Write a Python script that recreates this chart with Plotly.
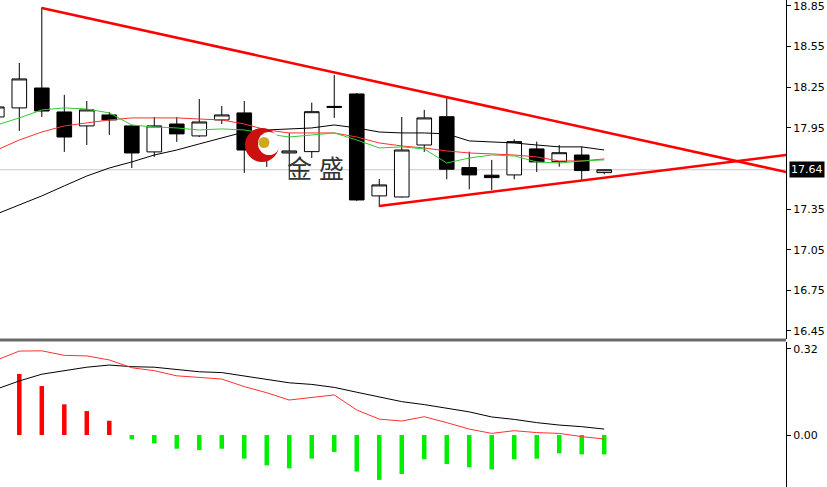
import plotly.graph_objects as go

# ---------------- data ----------------
idx = list(range(-1, 27))  # candle / bar index (time order)

opens = [18.030, 18.097, 18.244, 18.067, 17.964, 18.045, 17.964, 17.772, 17.978, 17.890,
         18.008, 18.060, 17.786, 17.764, 17.774, 18.100, 18.200, 17.447, 17.439, 17.823,
         18.032, 17.656, 17.600, 17.602, 17.794, 17.700, 17.749, 17.619]
highs = [18.156, 18.429, 18.840, 18.193, 18.148, 18.067, 17.971, 18.030, 18.030, 18.163,
         18.111, 18.148, 17.860, 17.912, 18.136, 18.340, 18.207, 17.572, 18.030, 18.082,
         18.180, 17.774, 17.713, 17.865, 17.848, 17.823, 17.811, 17.642]
lows = [17.971, 17.927, 18.030, 17.772, 17.823, 17.897, 17.653, 17.735, 17.846, 17.882,
        17.978, 17.617, 17.661, 17.580, 17.727, 18.023, 17.410, 17.365, 17.435, 17.772,
        17.570, 17.496, 17.491, 17.570, 17.624, 17.663, 17.565, 17.607]
closes = [18.104, 18.311, 18.074, 17.882, 18.082, 18.008, 17.764, 17.964, 17.905, 17.993,
          18.045, 17.786, 17.772, 17.779, 18.069, 18.108, 17.417, 17.528, 17.786, 18.023,
          17.644, 17.602, 17.582, 17.848, 17.698, 17.766, 17.634, 17.640]

ma_black = [17.314, 17.380, 17.447, 17.521, 17.594, 17.653, 17.698, 17.749, 17.786, 17.831,
            17.875, 17.919, 17.934, 17.942, 17.949, 17.971, 17.949, 17.919, 17.912, 17.912,
            17.905, 17.853, 17.846, 17.838, 17.823, 17.809, 17.809, 17.786]
ma_red = [17.786, 17.860, 17.919, 17.964, 17.986, 18.008, 18.023, 18.023, 18.023, 18.015,
          18.008, 17.978, 17.934, 17.912, 17.912, 17.912, 17.882, 17.838, 17.816, 17.801,
          17.779, 17.764, 17.757, 17.749, 17.735, 17.705, 17.705, 17.720]
ma_green = [17.971, 18.023, 18.082, 18.097, 18.089, 18.060, 17.971, 17.956, 17.949, 17.934,
            17.942, 17.934, 17.905, 17.882, 17.897, 17.912, 17.860, 17.801, 17.809, 17.794,
            17.690, 17.727, 17.749, 17.742, 17.698, 17.690, 17.705, 17.713]

# triangle trend lines (index, price)
trend_upper_x = [1, 35]
trend_upper_y = [18.835, 17.590]
trend_lower_x = [16, 35]
trend_lower_y = [17.373, 17.768]

current_price = 17.64

# MACD panel
hist_idx = list(range(0, 27))
macd_hist = [0.227, 0.182, 0.114, 0.089, 0.053, -0.016, -0.031, -0.051, -0.056, -0.051,
             -0.088, -0.113, -0.124, -0.088, -0.063, -0.136, -0.167, -0.145, -0.090, -0.108,
             -0.120, -0.128, -0.090, -0.088, -0.068, -0.072, -0.072]
macd_red = [0.279, 0.312, 0.313, 0.296, 0.294, 0.279, 0.250, 0.239, 0.220, 0.213,
            0.208, 0.180, 0.157, 0.130, 0.139, 0.149, 0.093, 0.059, 0.052, 0.068,
            0.046, 0.022, 0.006, 0.016, 0.009, 0.006, -0.006, -0.015]
macd_black = [0.171, 0.201, 0.226, 0.239, 0.252, 0.260, 0.254, 0.252, 0.244, 0.235,
              0.232, 0.219, 0.207, 0.194, 0.188, 0.177, 0.159, 0.142, 0.124, 0.113,
              0.100, 0.086, 0.067, 0.058, 0.046, 0.037, 0.031, 0.022]

price_ticks = [18.85, 18.55, 18.25, 17.95, 17.35, 17.05, 16.75, 16.45]
macd_ticks = [0.32, 0.00]

# ---------------- figure ----------------
W, H = 827, 487
R = 41
PW = W - R

fig = go.Figure()

fig.add_trace(go.Candlestick(
    x=idx, open=opens, high=highs, low=lows, close=closes,
    increasing=dict(line=dict(color="black", width=1), fillcolor="white"),
    decreasing=dict(line=dict(color="black", width=1), fillcolor="black"),
    whiskerwidth=0, xaxis="x", yaxis="y", hoverinfo="skip", showlegend=False))

for vals, col in [(ma_black, "#000000"), (ma_red, "#ff3030"), (ma_green, "#33cc33")]:
    fig.add_trace(go.Scatter(x=idx, y=vals, mode="lines", line=dict(color=col, width=1),
                             xaxis="x", yaxis="y", hoverinfo="skip", showlegend=False))

for tx, ty in [(trend_upper_x, trend_upper_y), (trend_lower_x, trend_lower_y)]:
    fig.add_trace(go.Scatter(x=tx, y=ty, mode="lines", line=dict(color="#ff0000", width=2.6),
                             xaxis="x", yaxis="y", hoverinfo="skip", showlegend=False))

fig.add_trace(go.Bar(x=hist_idx, y=macd_hist, width=0.2,
                     marker=dict(color=["#ff0000" if v >= 0 else "#00ee00" for v in macd_hist],
                                 line=dict(width=0)),
                     xaxis="x2", yaxis="y2", hoverinfo="skip", showlegend=False))
fig.add_trace(go.Scatter(x=idx, y=macd_black, mode="lines", line=dict(color="#000000", width=1),
                         xaxis="x2", yaxis="y2", hoverinfo="skip", showlegend=False))
fig.add_trace(go.Scatter(x=idx, y=macd_red, mode="lines", line=dict(color="#ff3030", width=1),
                         xaxis="x2", yaxis="y2", hoverinfo="skip", showlegend=False))

xr = [-0.858, 34.08]
tickfont = dict(family="DejaVu Sans", size=11, color="#000000")

def py(pix):
    return 1 - pix / H

def px(pix):
    return pix / PW

fig.update_layout(
    width=W, height=H,
    margin=dict(l=0, r=R, t=0, b=0),
    paper_bgcolor="white", plot_bgcolor="white",
    boxgap=0.35, boxgroupgap=0,
    xaxis=dict(domain=[0, 1], range=xr, visible=False, anchor="y",
               rangeslider=dict(visible=False)),
    xaxis2=dict(domain=[0, 1], range=xr, visible=False, anchor="y2", matches="x"),
    yaxis=dict(domain=[py(339), 1], range=[16.390, 18.894], side="right", anchor="x",
               tickvals=price_ticks, ticktext=["%.2f" % v for v in price_ticks],
               ticks="outside", ticklen=4, tickcolor="black", showgrid=False,
               zeroline=False, showline=True, linecolor="black", linewidth=1,
               tickfont=tickfont, automargin=False, ticklabeloverflow="allow"),
    yaxis2=dict(domain=[0, py(342)], range=[-0.1933, 0.3457], side="right", anchor="x2",
                tickvals=macd_ticks, ticktext=["%.2f" % v for v in macd_ticks],
                ticks="outside", ticklen=4, tickcolor="black", showgrid=False,
                zeroline=False, showline=True, linecolor="black", linewidth=1,
                tickfont=tickfont, automargin=False, ticklabeloverflow="allow"),
    shapes=[
        dict(type="line", xref="x", yref="y", x0=xr[0], x1=xr[1], y0=current_price,
             y1=current_price, line=dict(color="#c8c8c8", width=1), layer="below"),
        dict(type="line", xref="paper", yref="paper", x0=0, x1=1, y0=py(340), y1=py(340),
             line=dict(color="#6a6a6a", width=3)),
        # logo
        dict(type="circle", xref="paper", yref="paper", x0=px(245), x1=px(279),
             y0=py(162), y1=py(128), fillcolor="#cc1010", line=dict(width=0)),
        dict(type="circle", xref="paper", yref="paper", x0=px(258), x1=px(280),
             y0=py(155), y1=py(132), fillcolor="white", line=dict(width=0)),
        dict(type="circle", xref="paper", yref="paper", x0=px(258.5), x1=px(269.5),
             y0=py(148), y1=py(137), fillcolor="#d0a820", line=dict(width=0)),
    ],
    annotations=[
        dict(x=1, xref="paper", y=current_price, yref="y", xanchor="left", xshift=3,
             text="17.64", showarrow=False, bgcolor="black", borderpad=1,
             font=dict(family="DejaVu Sans", size=11, color="white")),
        dict(x=px(299), xref="paper", y=py(147), yref="paper", text="金", showarrow=False,
             font=dict(family="Noto Sans CJK SC", size=25, color="#333333")),
        dict(x=px(331), xref="paper", y=py(147), yref="paper", text="盛", showarrow=False,
             font=dict(family="Noto Sans CJK SC", size=25, color="#333333")),
    ],
)

fig.write_html("out.html", config=dict(displayModeBar=False),
               post_script="document.body.style.margin='0';document.body.style.overflow='hidden';")
